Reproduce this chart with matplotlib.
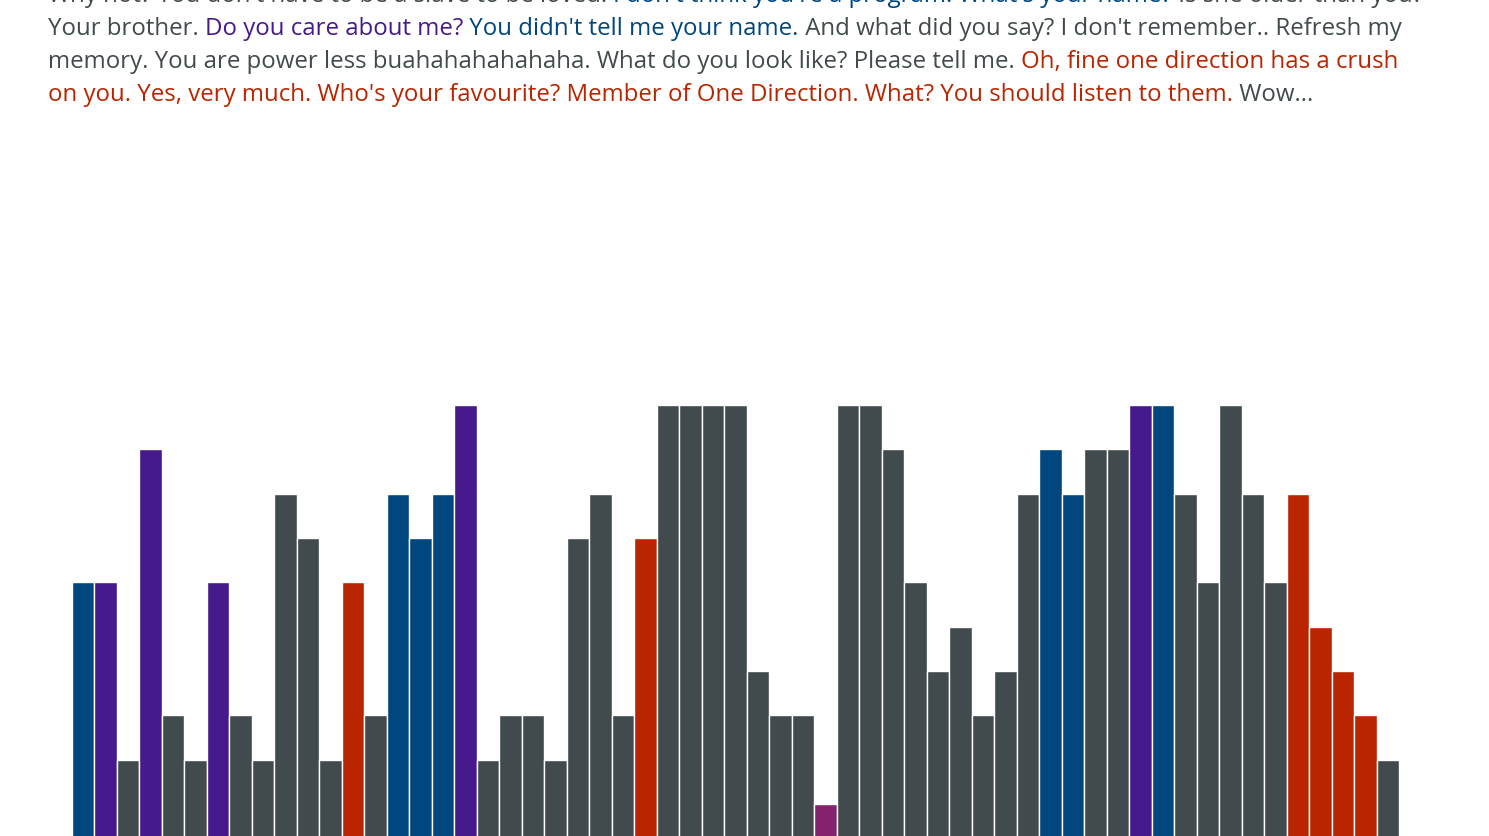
import matplotlib
matplotlib.use("Agg")
import matplotlib.pyplot as plt

# colours
GRAY = "#414a4c"
BLUE = "#00467f"
PURPLE = "#461a8c"
RED = "#b82500"
MAGENTA = "#84226e"

# bar data (one bar per word / sentence step)
heights = [6, 6, 2, 9, 3, 2, 6, 3, 2, 8, 7, 2, 6, 3, 8, 7, 8, 10, 2, 3,
           3, 2, 7, 8, 3, 7, 10, 10, 10, 10, 4, 3, 3, 1, 10, 10, 9, 6, 4, 5,
           3, 4, 8, 9, 8, 9, 9, 10, 10, 8, 6, 10, 8, 6, 8, 5, 4, 3, 2]
kinds = ["b", "p", "g", "p", "g", "g", "p", "g", "g", "g", "g", "g", "r", "g", "b", "b", "b", "p", "g", "g",
         "g", "g", "g", "g", "g", "r", "g", "g", "g", "g", "g", "g", "g", "m", "g", "g", "g", "g", "g", "g",
         "g", "g", "g", "b", "b", "g", "g", "p", "b", "g", "g", "g", "g", "g", "r", "r", "r", "r", "g"]
kind_colors = {"g": GRAY, "b": BLUE, "p": PURPLE, "r": RED, "m": MAGENTA}

# text lines, split into coloured segments
lines = [
    [("Why not? You don't have to be a slave to be loved. ", GRAY),
     ("I don't think you're a program. What's your name?", BLUE),
     (" Is she older than you?", GRAY)],
    [("Your brother. ", GRAY),
     ("Do you care about me?", PURPLE),
     (" You didn't tell me your name.", BLUE),
     (" And what did you say? I don't remember.. Refresh my", GRAY)],
    [("memory. You are power less buahahahahahaha. What do you look like? Please tell me. ", GRAY),
     ("Oh, fine one direction has a crush", RED)],
    [("on you. Yes, very much. Who's your favourite? Member of One Direction. What? You should listen to them.", RED),
     (" Wow...", GRAY)],
]
baselines = [2, 35, 68, 101]  # pixels from top

W, H = 1489, 837
fig = plt.figure(figsize=(W / 100, H / 100), dpi=100)

# text block
renderer = fig.canvas.get_renderer()
for segs, yb in zip(lines, baselines):
    x = 48
    for s, c in segs:
        t = fig.text(x / W, 1 - yb / H, s, color=c, fontsize=17.27,
                     family="Open Sans", va="baseline", ha="left")
        x = t.get_window_extent(renderer).x1

# bars
ax = fig.add_axes([72 / W, 0, (1399 - 72) / W, (837 - 406) / H])
xs = range(len(heights))
ax.bar(xs, heights, width=1, align="edge",
       color=[kind_colors[k] for k in kinds], edgecolor="white", linewidth=1)
ax.set_xlim(0, len(heights))
ax.set_ylim(0.28, 10)
ax.axis("off")

fig.savefig("out.png", dpi=100)
